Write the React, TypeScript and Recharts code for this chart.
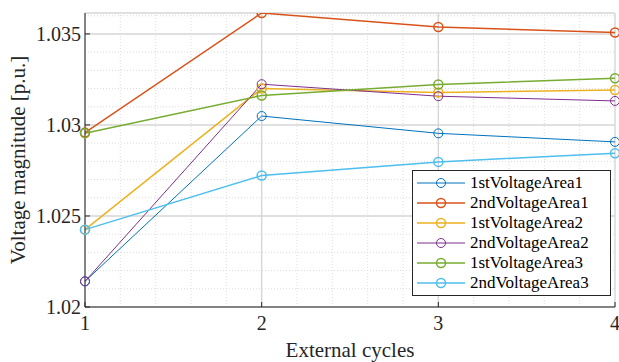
import React from "react";
import {
  LineChart,
  Line,
  XAxis,
  YAxis,
  CartesianGrid,
  ReferenceLine,
} from "recharts";

const cycles = [1, 2, 3, 4];
const firstArea1 = [1.02141, 1.03049, 1.02954, 1.02907];
const secondArea1 = [1.02958, 1.03615, 1.03538, 1.03508];
const firstArea2 = [1.02425, 1.032, 1.03178, 1.03192];
const secondArea2 = [1.02141, 1.03224, 1.03158, 1.03132];
const firstArea3 = [1.02955, 1.03162, 1.03222, 1.03257];
const secondArea3 = [1.02425, 1.02722, 1.02797, 1.02845];

const xTicks = [1, 2, 3, 4];
const yTicks = [1.02, 1.025, 1.03, 1.035];
const yTickLabels = ["1.02", "1.025", "1.03", "1.035"];
const xMinor = [1.2, 1.4, 1.6, 1.8, 2.2, 2.4, 2.6, 2.8, 3.2, 3.4, 3.6, 3.8];
const yMinor = [1.021, 1.022, 1.023, 1.024, 1.026, 1.027, 1.028, 1.029, 1.031, 1.032, 1.033, 1.034, 1.036];

const series = [
  { key: "a1", name: "1stVoltageArea1", values: firstArea1, color: "#0072BD", width: 1 },
  { key: "b1", name: "2ndVoltageArea1", values: secondArea1, color: "#D95319", width: 1.5 },
  { key: "a2", name: "1stVoltageArea2", values: firstArea2, color: "#EDB120", width: 1.5 },
  { key: "b2", name: "2ndVoltageArea2", values: secondArea2, color: "#7E2F8E", width: 1 },
  { key: "a3", name: "1stVoltageArea3", values: firstArea3, color: "#77AC30", width: 1.5 },
  { key: "b3", name: "2ndVoltageArea3", values: secondArea3, color: "#4DBEEE", width: 1.5 },
];

const rows = cycles.map((c, i) => {
  const row: Record<string, number> = { cycle: c };
  series.forEach((s) => (row[s.key] = s.values[i]));
  return row;
});

const FONT = "'Liberation Serif', 'Times New Roman', serif";
const AXIS = "#262626";
const TICK = 5;

function BottomTick({ x, y, payload }: any) {
  return (
    <g>
      <line x1={x} y1={y} x2={x} y2={y - TICK} stroke={AXIS} />
      <text x={x} y={y + 23} textAnchor="middle" fontFamily={FONT} fontSize={20} fill={AXIS}>
        {payload.value}
      </text>
    </g>
  );
}

function LeftTick({ x, y, payload }: any) {
  const i = yTicks.indexOf(payload.value);
  return (
    <g>
      <line x1={x} y1={y} x2={x + TICK} y2={y} stroke={AXIS} />
      <text x={x - 4} y={y + 7} textAnchor="end" fontFamily={FONT} fontSize={20} fill={AXIS}>
        {i >= 0 ? yTickLabels[i] : payload.value}
      </text>
    </g>
  );
}

function TopTick({ x, y }: any) {
  return <line x1={x} y1={y} x2={x} y2={y + TICK} stroke={AXIS} />;
}

function RightTick({ x, y }: any) {
  return <line x1={x} y1={y} x2={x - TICK} y2={y} stroke={AXIS} />;
}

function Legend() {
  return (
    <div
      style={{
        position: "absolute",
        left: 412,
        top: 170,
        width: 197,
        padding: "2px 0",
        background: "#fff",
        border: `1px solid ${AXIS}`,
        fontFamily: FONT,
        fontSize: 17,
        color: "#000",
      }}
    >
      {series.map((s) => (
        <div key={s.key} style={{ display: "flex", alignItems: "center", height: 20, lineHeight: "20px" }}>
          <svg width={48} height={20} style={{ marginLeft: 4, marginRight: 5 }}>
            <line x1={0} y1={10} x2={48} y2={10} stroke={s.color} strokeWidth={s.width} />
            <circle cx={24} cy={10} r={4.5} fill="none" stroke={s.color} strokeWidth={s.width} />
          </svg>
          <span>{s.name}</span>
        </div>
      ))}
    </div>
  );
}

export default function App() {
  return (
    <div style={{ position: "absolute", left: 0, top: 0, width: 619, height: 362, background: "#fff" }}>
      <LineChart width={619} height={362} data={rows} margin={{ top: 13, right: 4, bottom: 0, left: 0 }}>
        <CartesianGrid stroke="#d6d6d6" strokeWidth={1.4} />
        {xMinor.map((v) => (
          <ReferenceLine key={"x" + v} x={v} stroke="#dcdcdc" strokeDasharray="1 2" />
        ))}
        {yMinor.map((v) => (
          <ReferenceLine key={"y" + v} y={v} stroke="#dcdcdc" strokeDasharray="1 2" />
        ))}
        <XAxis
          dataKey="cycle"
          type="number"
          domain={[1, 4]}
          ticks={xTicks}
          height={55}
          tickSize={0}
          tickMargin={0}
          tick={<BottomTick />}
          axisLine={{ stroke: AXIS }}
          label={{ value: "External cycles", position: "insideBottom", offset: 5, fontFamily: FONT, fontSize: 21, fill: AXIS }}
        />
        <XAxis
          xAxisId="top"
          orientation="top"
          type="number"
          domain={[1, 4]}
          ticks={xTicks}
          height={0}
          tickSize={0}
          tick={<TopTick />}
          axisLine={{ stroke: AXIS }}
        />
        <YAxis
          type="number"
          domain={[1.02, 1.03615]}
          allowDataOverflow
          ticks={yTicks}
          width={85}
          tickSize={0}
          tickMargin={0}
          tick={<LeftTick />}
          axisLine={{ stroke: AXIS }}
          label={{ value: "Voltage magnitude [p.u.]", angle: -90, position: "insideLeft", offset: 18, style: { textAnchor: "middle" }, fontFamily: FONT, fontSize: 21, fill: AXIS }}
        />
        <YAxis
          yAxisId="right"
          orientation="right"
          type="number"
          domain={[1.02, 1.03615]}
          allowDataOverflow
          ticks={yTicks}
          width={0}
          tickSize={0}
          tick={<RightTick />}
          axisLine={{ stroke: AXIS }}
        />
        {series.map((s) => (
          <Line
            key={s.key}
            dataKey={s.key}
            name={s.name}
            type="linear"
            stroke={s.color}
            strokeWidth={s.width}
            dot={{ r: 4.5, fill: "none", stroke: s.color, strokeWidth: s.width }}
            activeDot={false}
            isAnimationActive={false}
          />
        ))}
      </LineChart>
      <Legend />
    </div>
  );
}
